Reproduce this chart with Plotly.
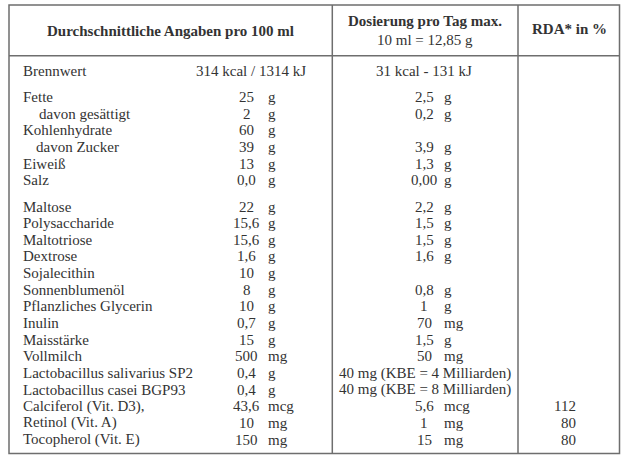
import plotly.graph_objects as go

# ---------------- data ----------------
header_col1 = "Durchschnittliche Angaben pro 100 ml"
header_col2 = ["Dosierung pro Tag max.", "10 ml = 12,85 g"]
header_col3 = "RDA* in %"

energy_label = "Brennwert"
energy_100ml = "314 kcal / 1314 kJ"
energy_dose = "31 kcal - 131 kJ"

group1_names = ["Fette", "davon gesättigt", "Kohlenhydrate", "davon Zucker", "Eiweiß", "Salz"]
group1_indent = [0, 1, 0, 1, 0, 0]
group1_val = ["25", "2", "60", "39", "13", "0,0"]
group1_unit = ["g", "g", "g", "g", "g", "g"]
group1_dose_val = ["2,5", "0,2", "", "3,9", "1,3", "0,00"]
group1_dose_unit = ["g", "g", "", "g", "g", "g"]

group2_names = ["Maltose", "Polysaccharide", "Maltotriose", "Dextrose", "Sojalecithin",
                "Sonnenblumenöl", "Pflanzliches Glycerin", "Inulin", "Maisstärke", "Vollmilch",
                "Lactobacillus salivarius SP2", "Lactobacillus casei BGP93",
                "Calciferol (Vit. D3),", "Retinol (Vit. A)", "Tocopherol (Vit. E)"]
group2_val = ["22", "15,6", "15,6", "1,6", "10", "8", "10", "0,7", "15", "500",
              "0,4", "0,4", "43,6", "10", "150"]
group2_unit = ["g", "g", "g", "g", "g", "g", "g", "g", "g", "mg", "g", "g", "mcg", "mg", "mg"]
group2_dose_val = ["2,2", "1,5", "1,5", "1,6", "", "0,8", "1", "70", "1,5", "50",
                   "40 mg (KBE = 4 Milliarden)", "40 mg (KBE = 8 Milliarden)", "5,6", "1", "15"]
group2_dose_unit = ["g", "g", "g", "g", "", "g", "g", "mg", "g", "mg", "", "", "mcg", "mg", "mg"]
group2_rda = ["", "", "", "", "", "", "", "", "", "", "", "", "112", "80", "80"]

# ---------------- layout constants ----------------
W, H = 629, 461
FONT = "'Liberation Serif', 'Times New Roman', Times, serif"
TXT = "#333333"
LINE = "#6e6e6e"
FS = 15

X_LEFT, X_RIGHT = 9, 619.5
Y_TOP, Y_HEAD, Y_BOT = 5, 55.7, 453.5
X_DIV1, X_DIV2 = 332.3, 518

X_NAME = 21
X_INDENT = [0, 13]
X_VAL_C = 246.5
X_UNIT = 266
X_DOSE_C = 424
X_DOSE_UNIT = 442
X_RDA_R = 578

Y_ENERGY = 70.5
ROW_H = 16.65
Y_G1 = 97
Y_G2 = 206.5

ann = []


def add(x, y, text, anchor="left", bold=False, size=FS):
    ann.append(dict(x=x, y=y, xref="x", yref="y", text=f"<b>{text}</b>" if bold else text,
                    showarrow=False, xanchor=anchor, yanchor="middle",
                    font=dict(family=FONT, size=size, color=TXT)))


# header
add((X_LEFT + X_DIV1) / 2, 31, header_col1, "center", bold=True)
add((X_DIV1 + X_DIV2) / 2, 21, header_col2[0], "center", bold=True)
add((X_DIV1 + X_DIV2) / 2, 40, header_col2[1], "center")
add((X_DIV2 + X_RIGHT) / 2 + 0.5, 29, header_col3, "center", bold=True)

# energy row
add(X_NAME, Y_ENERGY, energy_label)
add(251, Y_ENERGY, energy_100ml, "center")
add(X_DOSE_C, Y_ENERGY, energy_dose, "center")

# group 1
for i, name in enumerate(group1_names):
    y = Y_G1 + i * ROW_H
    add(X_NAME + X_INDENT[group1_indent[i]] + (3 if i == 1 else 0), y, name)
    add(X_VAL_C, y, group1_val[i], "center")
    add(X_UNIT, y, group1_unit[i])
    if group1_dose_val[i]:
        add(X_DOSE_C, y, group1_dose_val[i], "center")
        add(X_DOSE_UNIT, y, group1_dose_unit[i])

# group 2
for i, name in enumerate(group2_names):
    y = Y_G2 + i * ROW_H
    add(X_NAME, y, name)
    add(X_VAL_C, y, group2_val[i], "center")
    add(X_UNIT, y, group2_unit[i])
    dv = group2_dose_val[i]
    if dv:
        if group2_dose_unit[i]:
            add(X_DOSE_C, y, dv, "center")
            add(X_DOSE_UNIT, y, group2_dose_unit[i])
        else:
            add(X_DOSE_C + 1, y, dv, "center")
    if group2_rda[i]:
        add(X_RDA_R, y, group2_rda[i], "right")

shapes = [
    dict(type="rect", x0=X_LEFT, x1=X_RIGHT, y0=Y_TOP, y1=Y_BOT, xref="x", yref="y",
         line=dict(color=LINE, width=1.5)),
    dict(type="line", x0=X_LEFT, x1=X_RIGHT, y0=Y_HEAD, y1=Y_HEAD, xref="x", yref="y",
         line=dict(color=LINE, width=1.5)),
    dict(type="line", x0=X_DIV1, x1=X_DIV1, y0=Y_TOP, y1=Y_BOT, xref="x", yref="y",
         line=dict(color=LINE, width=1.5)),
    dict(type="line", x0=X_DIV2, x1=X_DIV2, y0=Y_TOP, y1=Y_BOT, xref="x", yref="y",
         line=dict(color=LINE, width=1.5)),
]

fig = go.Figure()
fig.update_layout(
    width=W, height=H,
    margin=dict(l=0, r=0, t=0, b=0),
    paper_bgcolor="white", plot_bgcolor="white",
    xaxis=dict(range=[0, W], visible=False, fixedrange=True),
    yaxis=dict(range=[H, 0], visible=False, fixedrange=True),
    annotations=ann, shapes=shapes, showlegend=False,
)
fig.write_html("out.html", config={"displayModeBar": False},
               post_script="document.body.style.margin='0';document.body.style.overflow='hidden';")
